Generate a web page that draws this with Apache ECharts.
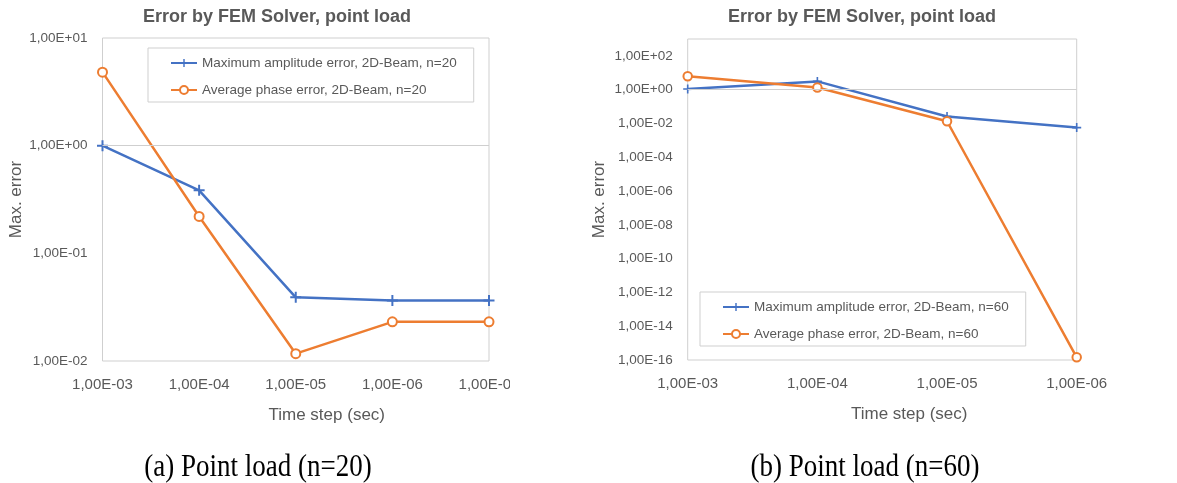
<!DOCTYPE html>
<html>
<head>
<meta charset="utf-8">
<script src="https://cdn.jsdelivr.net/npm/echarts@6/dist/echarts.min.js"></script>
<style>
  html, body { margin: 0; padding: 0; background: #fff; width: 1177px; height: 483px; overflow: hidden; }
  #leftWrap { position: absolute; left: 0; top: 0; width: 510px; height: 483px; overflow: hidden; }
  #left { position: absolute; left: 0; top: 0; width: 554px; height: 483px; }
  #right { position: absolute; left: 590px; top: 0; width: 544px; height: 483px; }
  .cap { position: absolute; top: 447px; font-family: "Liberation Serif", "DejaVu Serif", serif; font-size: 27px;
         color: #000; transform: translateX(-50%) scaleY(1.2); transform-origin: 50% 0; white-space: nowrap; line-height: 30px; }
</style>
</head>
<body>
<div id="leftWrap"><div id="left"></div></div>
<div id="right"></div>
<div class="cap" style="left:258px">(a) Point load (n=20)</div>
<div class="cap" style="left:865px">(b) Point load (n=60)</div>
<script>
// Time steps (category axis labels)
const stepsN20 = ['1,00E-03', '1,00E-04', '1,00E-05', '1,00E-06', '1,00E-07'];
const stepsN60 = ['1,00E-03', '1,00E-04', '1,00E-05', '1,00E-06'];

// n = 20
const ampErrN20   = [1.0, 0.385, 0.039, 0.0365, 0.0365];
const phaseErrN20 = [4.82, 0.22, 0.0117, 0.0231, 0.0231];

// n = 60
const ampErrN60   = [1.1, 3.1, 0.026, 0.0057];
const phaseErrN60 = [6.2, 1.35, 0.0135, 1.45e-16];

const BLUE = '#4472C4';
const ORANGE = '#ED7D31';
const TEXT = '#595959';
const FRAME = '#cfcfcf';
const FONT = '"Liberation Sans", Arial, sans-serif';
const PLUS = 'path://M0,4.1H10V5.9H0Z M4.1,0H5.9V10H4.1Z';

// 1,00E+02 style labels
function sci(v) {
  const e = Math.round(Math.log10(v));
  const m = v / Math.pow(10, e);
  const a = Math.abs(e);
  return m.toFixed(2).replace('.', ',') + 'E' + (e < 0 ? '-' : '+') + (a < 10 ? '0' : '') + a;
}

function build(c) {
  return {
    animation: false,
    textStyle: { fontFamily: FONT },
    title: {
      text: 'Error by FEM Solver, point load',
      left: 'center', top: 3,
      textStyle: { fontSize: 18, fontWeight: 'bold', color: TEXT, fontFamily: FONT }
    },
    legend: {
      orient: 'vertical',
      left: c.legendLeft, top: c.legendTop,
      padding: [8, 17, 5, 22],
      itemGap: 13,
      itemWidth: 26, itemHeight: 10,
      borderColor: FRAME, borderWidth: 1,
      textStyle: { fontSize: 13.5, lineHeight: 14, color: TEXT, fontFamily: FONT },
      data: [c.names[0], c.names[1]]
    },
    grid: {
      left: c.grid[0], top: c.grid[1], right: c.grid[2], bottom: c.grid[3],
      containLabel: false, outerBoundsMode: 'none',
      show: true, borderColor: FRAME, borderWidth: 1, backgroundColor: 'transparent'
    },
    xAxis: {
      type: 'category', data: c.steps, boundaryGap: false,
      axisLine: { show: false }, axisTick: { show: false }, splitLine: { show: false },
      axisLabel: { interval: 0, fontSize: 15, color: TEXT, margin: 16 },
      name: 'Time step (sec)', nameLocation: 'middle', nameGap: 46, nameMoveOverlap: false,
      nameTextStyle: { fontSize: 17, color: TEXT, padding: [0, 0, 0, c.nameShift] }
    },
    yAxis: {
      type: 'log', logBase: c.logBase, min: c.min, max: c.max,
      axisLine: { show: false }, axisTick: { show: false }, splitLine: { show: false },
      axisLabel: { formatter: sci, fontSize: 13.5, color: TEXT, margin: 15, showMaxLabel: c.showMax },
      name: 'Max. error', nameLocation: 'middle', nameGap: c.nameGapY, nameRotate: 90,
      nameMoveOverlap: false,
      nameTextStyle: { fontSize: 17, color: TEXT }
    },
    series: [
      {
        name: c.names[0], type: 'line', data: c.amp,
        symbol: PLUS, symbolSize: c.plusSize,
        lineStyle: { width: 2.5, color: BLUE },
        itemStyle: { color: BLUE },
        emphasis: { disabled: true },
        markLine: {
          silent: true, symbol: ['none', 'none'],
          label: { show: false },
          lineStyle: { color: FRAME, width: 1, type: 'solid' },
          data: [{ yAxis: 1 }]
        }
      },
      {
        name: c.names[1], type: 'line', data: c.phase,
        symbol: 'emptyCircle', symbolSize: c.circSize,
        lineStyle: { width: 2.5, color: ORANGE },
        itemStyle: { color: ORANGE, borderWidth: 1.5 },
        emphasis: { disabled: true }
      }
    ]
  };
}

const left = echarts.init(document.getElementById('left'), null, { renderer: 'canvas' });
left.setOption(build({
  steps: stepsN20, amp: ampErrN20, phase: phaseErrN20,
  names: ['Maximum amplitude error, 2D-Beam, n=20', 'Average phase error, 2D-Beam, n=20'],
  logBase: 10, min: 0.01, max: 10, showMax: true,
  grid: [102.5, 38, 65, 122],
  legendLeft: 148, legendTop: 48,
  nameShift: 62, nameGapY: 78,
  plusSize: 11, circSize: 9
}));

const right = echarts.init(document.getElementById('right'), null, { renderer: 'canvas' });
right.setOption(build({
  steps: stepsN60, amp: ampErrN60, phase: phaseErrN60,
  names: ['Maximum amplitude error, 2D-Beam, n=60', 'Average phase error, 2D-Beam, n=60'],
  logBase: 100, min: 1e-16, max: 1e3, showMax: false,
  grid: [97.7, 39, 57.3, 123],
  legendLeft: 110, legendTop: 292,
  nameShift: 54, nameGapY: 80,
  plusSize: 9, circSize: 8.5
}));
</script>
</body>
</html>
